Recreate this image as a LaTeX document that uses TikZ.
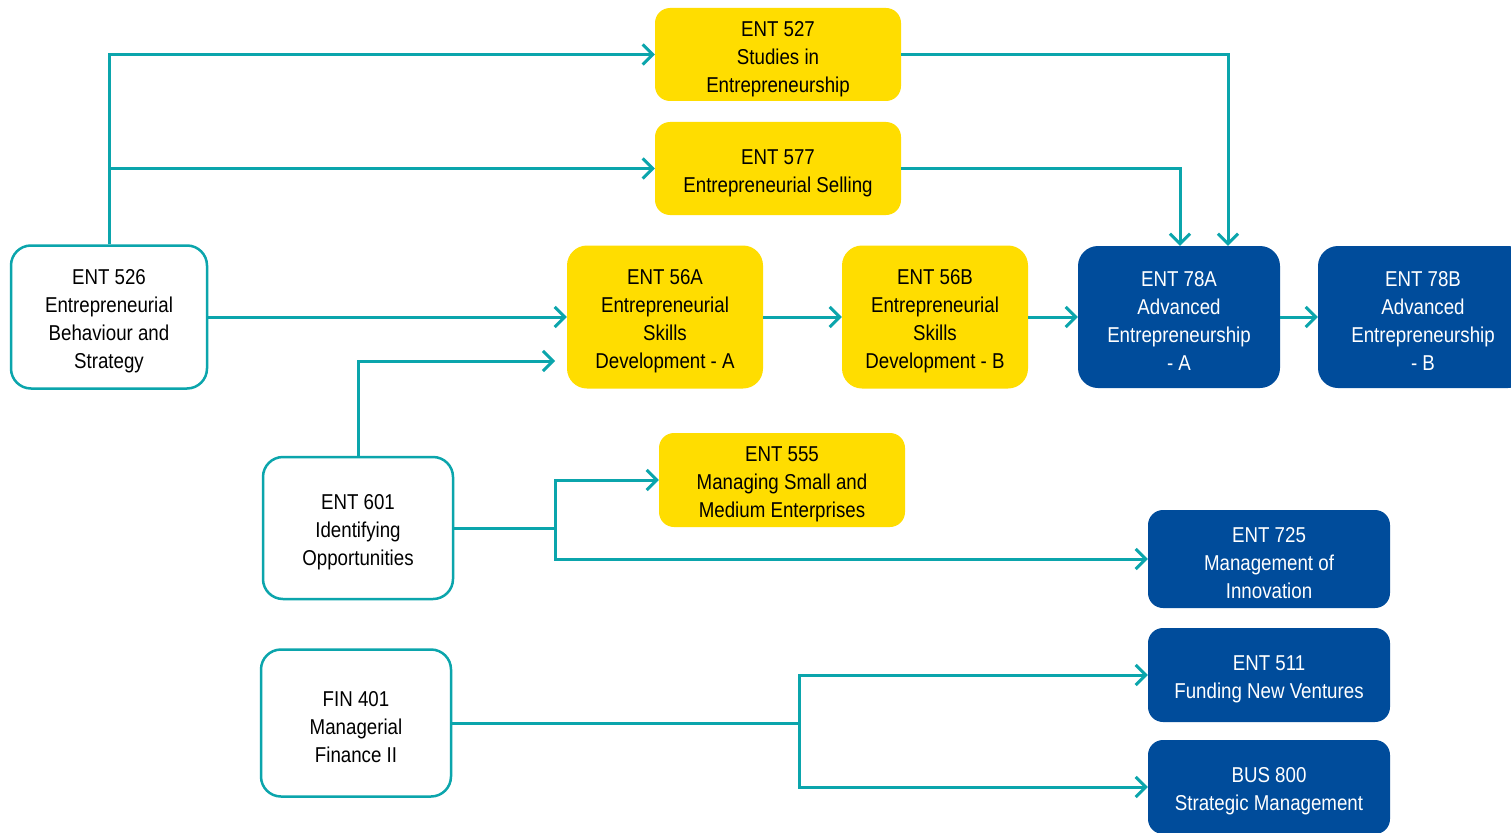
\documentclass[tikz,border=0pt]{standalone}
\usepackage{fontspec}
\setmainfont[FakeStretch=0.87]{Liberation Sans}
\usetikzlibrary{arrows.meta}
\definecolor{tealc}{HTML}{0BA5AC}
\definecolor{yel}{HTML}{FFDD00}
\definecolor{navy}{HTML}{004C9B}
\newcommand{\topstrut}{\rule{0pt}{23.5pt}}
\begin{document}
\begin{tikzpicture}[x=1pt,y=-1pt,
  box/.style={rectangle,inner sep=0pt,align=center,font=\fontsize{21.5}{28}\selectfont},
  ybox/.style={box,fill=yel,rounded corners=15pt,text=black},
  bbox/.style={box,fill=navy,rounded corners=20pt,text=white},
  wbox/.style={box,fill=white,draw=tealc,line width=2.5pt,rounded corners=20pt,text=black},
  conn/.style={draw=tealc,line width=3pt,-{Straight Barb[length=10pt,width=20pt,line width=3pt]}},
  link/.style={draw=tealc,line width=3pt}]
\useasboundingbox (0,0) rectangle (1511,832);
\fill[white] (0,0) rectangle (1511,832);
% nodes
\node[ybox,minimum width=246pt,minimum height=93pt] (n527) at (778,54.5) {\topstrut ENT 527\\Studies in\\Entrepreneurship};
\node[ybox,minimum width=246pt,minimum height=93pt] (n577) at (778,168.5) {\topstrut ENT 577\\Entrepreneurial Selling};
\node[wbox,minimum width=196pt,minimum height=143pt] (n526) at (109,317) {\topstrut ENT 526\\Entrepreneurial\\Behaviour and\\Strategy};
\node[ybox,minimum width=196pt,minimum height=143pt,rounded corners=20pt] (n56a) at (665,317) {\topstrut ENT 56A\\Entrepreneurial\\Skills\\Development - A};
\node[ybox,minimum width=186pt,minimum height=143pt,rounded corners=20pt] (n56b) at (935,317) {\topstrut ENT 56B\\Entrepreneurial\\Skills\\Development - B};
\node[bbox,minimum width=202pt,minimum height=142pt] (n78a) at (1179,317) {\topstrut ENT 78A\\Advanced\\Entrepreneurship\\- A};
\node[bbox,minimum width=210pt,minimum height=142pt] (n78b) at (1423,317) {\topstrut ENT 78B\\Advanced\\Entrepreneurship\\- B};
\node[wbox,minimum width=190pt,minimum height=142pt] (n601) at (358,528) {\topstrut ENT 601\\Identifying\\Opportunities};
\node[ybox,minimum width=246pt,minimum height=94pt] (n555) at (782,480) {\topstrut ENT 555\\Managing Small and\\Medium Enterprises};
\node[bbox,minimum width=242pt,minimum height=98pt,rounded corners=15pt] (n725) at (1269,559) {\topstrut ENT 725\\Management of\\Innovation};
\node[wbox,minimum width=190pt,minimum height=147pt] (n401) at (356,723) {\topstrut FIN 401\\Managerial\\Finance II};
\node[bbox,minimum width=242pt,minimum height=94pt,rounded corners=15pt] (n511) at (1269,675) {\topstrut ENT 511\\Funding New Ventures};
\node[bbox,minimum width=242pt,minimum height=94pt,rounded corners=15pt] (n800) at (1269,787) {\topstrut BUS 800\\Strategic Management};
% junction coordinates
\coordinate (c601) at (555,361);
\coordinate (j601) at (555,528);
\coordinate (j401) at (799,723);
% connectors
\draw[conn] (n526.north) |- (n527.west);
\draw[conn] (n526.north |- n577.west) -- (n577.west);
\draw[conn] (n526.east) -- (n56a.west);
\draw[conn] (n601.north) |- (c601);
\draw[conn] (n56a.east) -- (n56b.west);
\draw[conn] (n56b.east) -- (n78a.west);
\draw[conn] (n78a.east) -- (n78b.west);
\draw[conn] (n527.east) -| ([xshift=49pt]n78a.north);
\draw[conn] (n577.east) -| ([xshift=1pt]n78a.north);
\draw[link] (n601.east) -- (j601);
\draw[conn] (j601) |- (n555.west);
\draw[conn] (j601) |- (n725.west);
\draw[link] (n401.east) -- (j401);
\draw[conn] (j401) |- (n511.west);
\draw[conn] (j401) |- (n800.west);
\end{tikzpicture}
\end{document}
